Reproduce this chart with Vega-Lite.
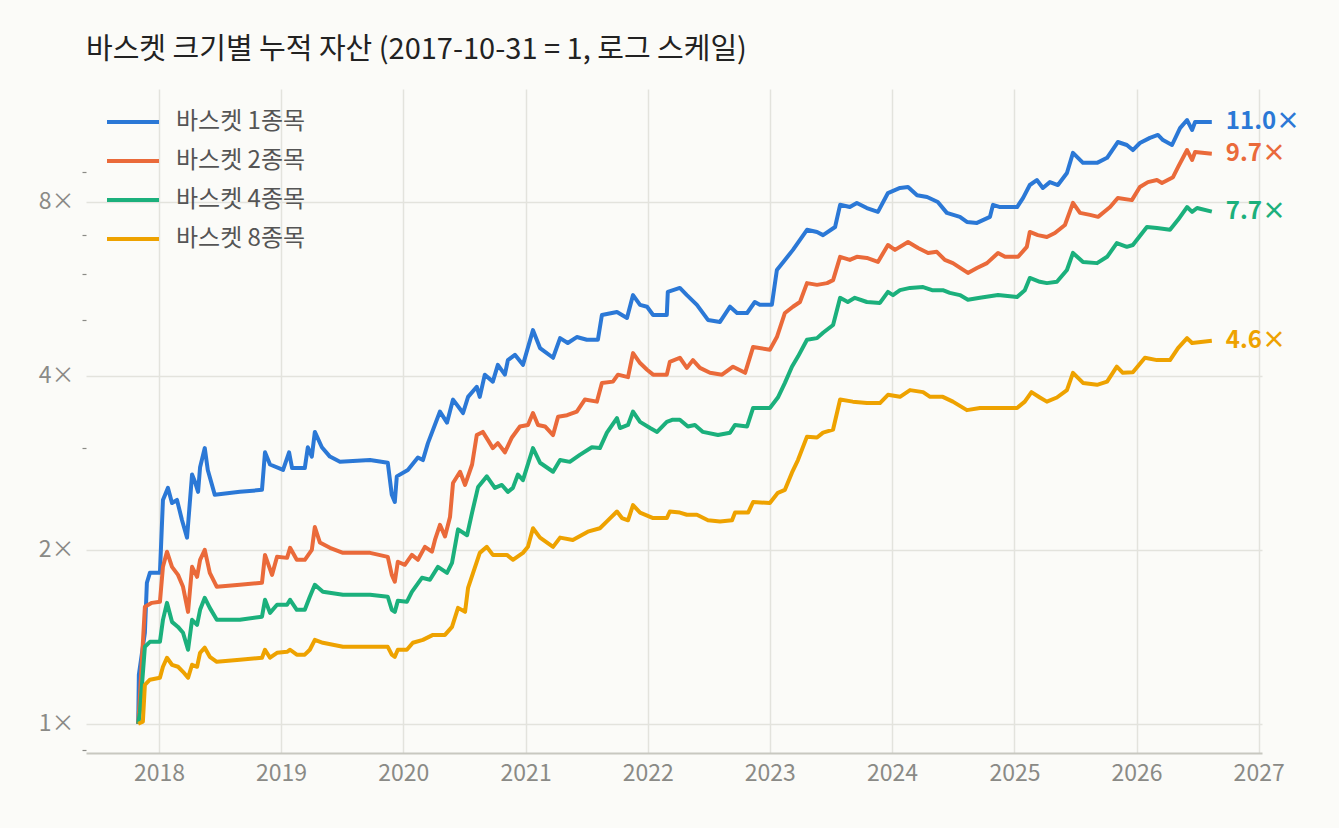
{
  "$schema": "https://vega.github.io/schema/vega-lite/v6.json",
  "width": 1176,
  "height": 664,
  "autosize": {"type": "none"},
  "padding": {"left": 86, "top": 89, "right": 77, "bottom": 75},
  "background": "#fbfbf8",
  "title": {
    "text": "바스켓 크기별 누적 자산 (2017-10-31 = 1, 로그 스케일)",
    "anchor": "start",
    "frame": "group",
    "font": "Noto Sans CJK KR",
    "fontSize": 29,
    "fontWeight": "normal",
    "color": "#222222",
    "baseline": "alphabetic",
    "offset": 1
  },
  "config": {
    "view": {"stroke": null},
    "font": "Noto Sans CJK KR"
  },
  "data": {
    "values": [
      {"basket": "바스켓 1종목", "date": "2017-10-31", "value": 1.0},
      {"basket": "바스켓 1종목", "date": "2017-11-02", "value": 1.216},
      {"basket": "바스켓 1종목", "date": "2017-11-20", "value": 1.437},
      {"basket": "바스켓 1종목", "date": "2017-11-26", "value": 1.754},
      {"basket": "바스켓 1종목", "date": "2017-12-05", "value": 1.825},
      {"basket": "바스켓 1종목", "date": "2018-01-04", "value": 1.825},
      {"basket": "바스켓 1종목", "date": "2018-01-13", "value": 2.44},
      {"basket": "바스켓 1종목", "date": "2018-01-28", "value": 2.56},
      {"basket": "바스켓 1종목", "date": "2018-02-09", "value": 2.41},
      {"basket": "바스켓 1종목", "date": "2018-02-24", "value": 2.44},
      {"basket": "바스켓 1종목", "date": "2018-03-11", "value": 2.25},
      {"basket": "바스켓 1종목", "date": "2018-03-26", "value": 2.10},
      {"basket": "바스켓 1종목", "date": "2018-04-10", "value": 2.70},
      {"basket": "바스켓 1종목", "date": "2018-04-19", "value": 2.62},
      {"basket": "바스켓 1종목", "date": "2018-04-28", "value": 2.52},
      {"basket": "바스켓 1종목", "date": "2018-05-04", "value": 2.78},
      {"basket": "바스켓 1종목", "date": "2018-05-18", "value": 3.00},
      {"basket": "바스켓 1종목", "date": "2018-05-27", "value": 2.75},
      {"basket": "바스켓 1종목", "date": "2018-06-17", "value": 2.49},
      {"basket": "바스켓 1종목", "date": "2018-08-31", "value": 2.52},
      {"basket": "바스켓 1종목", "date": "2018-11-05", "value": 2.54},
      {"basket": "바스켓 1종목", "date": "2018-11-14", "value": 2.95},
      {"basket": "바스켓 1종목", "date": "2018-11-29", "value": 2.81},
      {"basket": "바스켓 1종목", "date": "2019-01-07", "value": 2.75},
      {"basket": "바스켓 1종목", "date": "2019-01-25", "value": 2.95},
      {"basket": "바스켓 1종목", "date": "2019-02-03", "value": 2.77},
      {"basket": "바스켓 1종목", "date": "2019-03-13", "value": 2.77},
      {"basket": "바스켓 1종목", "date": "2019-03-22", "value": 3.01},
      {"basket": "바스켓 1종목", "date": "2019-04-03", "value": 2.90},
      {"basket": "바스켓 1종목", "date": "2019-04-12", "value": 3.20},
      {"basket": "바스켓 1종목", "date": "2019-05-03", "value": 3.01},
      {"basket": "바스켓 1종목", "date": "2019-05-27", "value": 2.90},
      {"basket": "바스켓 1종목", "date": "2019-06-26", "value": 2.84},
      {"basket": "바스켓 1종목", "date": "2019-09-24", "value": 2.86},
      {"basket": "바스켓 1종목", "date": "2019-11-16", "value": 2.83},
      {"basket": "바스켓 1종목", "date": "2019-11-28", "value": 2.49},
      {"basket": "바스켓 1종목", "date": "2019-12-07", "value": 2.42},
      {"basket": "바스켓 1종목", "date": "2019-12-13", "value": 2.68},
      {"basket": "바스켓 1종목", "date": "2020-01-15", "value": 2.75},
      {"basket": "바스켓 1종목", "date": "2020-02-14", "value": 2.89},
      {"basket": "바스켓 1종목", "date": "2020-02-29", "value": 2.86},
      {"basket": "바스켓 1종목", "date": "2020-03-15", "value": 3.06},
      {"basket": "바스켓 1종목", "date": "2020-04-20", "value": 3.47},
      {"basket": "바스켓 1종목", "date": "2020-05-11", "value": 3.32},
      {"basket": "바스켓 1종목", "date": "2020-05-29", "value": 3.64},
      {"basket": "바스켓 1종목", "date": "2020-06-28", "value": 3.45},
      {"basket": "바스켓 1종목", "date": "2020-07-13", "value": 3.68},
      {"basket": "바스켓 1종목", "date": "2020-08-08", "value": 3.83},
      {"basket": "바스켓 1종목", "date": "2020-08-17", "value": 3.68},
      {"basket": "바스켓 1종목", "date": "2020-09-01", "value": 4.02},
      {"basket": "바스켓 1종목", "date": "2020-09-25", "value": 3.91},
      {"basket": "바스켓 1종목", "date": "2020-10-10", "value": 4.18},
      {"basket": "바스켓 1종목", "date": "2020-10-31", "value": 4.02},
      {"basket": "바스켓 1종목", "date": "2020-11-09", "value": 4.26},
      {"basket": "바스켓 1종목", "date": "2020-11-30", "value": 4.35},
      {"basket": "바스켓 1종목", "date": "2020-12-24", "value": 4.18},
      {"basket": "바스켓 1종목", "date": "2021-01-23", "value": 4.80},
      {"basket": "바스켓 1종목", "date": "2021-02-13", "value": 4.47},
      {"basket": "바스켓 1종목", "date": "2021-03-24", "value": 4.30},
      {"basket": "바스켓 1종목", "date": "2021-04-14", "value": 4.65},
      {"basket": "바스켓 1종목", "date": "2021-05-07", "value": 4.56},
      {"basket": "바스켓 1종목", "date": "2021-06-03", "value": 4.67},
      {"basket": "바스켓 1종목", "date": "2021-07-03", "value": 4.62},
      {"basket": "바스켓 1종목", "date": "2021-08-05", "value": 4.62},
      {"basket": "바스켓 1종목", "date": "2021-08-17", "value": 5.10},
      {"basket": "바스켓 1종목", "date": "2021-10-01", "value": 5.16},
      {"basket": "바스켓 1종목", "date": "2021-10-31", "value": 5.04},
      {"basket": "바스켓 1종목", "date": "2021-11-18", "value": 5.52},
      {"basket": "바스켓 1종목", "date": "2021-12-09", "value": 5.31},
      {"basket": "바스켓 1종목", "date": "2021-12-30", "value": 5.27},
      {"basket": "바스켓 1종목", "date": "2022-01-17", "value": 5.10},
      {"basket": "바스켓 1종목", "date": "2022-02-27", "value": 5.10},
      {"basket": "바스켓 1종목", "date": "2022-03-02", "value": 5.59},
      {"basket": "바스켓 1종목", "date": "2022-04-07", "value": 5.68},
      {"basket": "바스켓 1종목", "date": "2022-04-28", "value": 5.52},
      {"basket": "바스켓 1종목", "date": "2022-05-28", "value": 5.31},
      {"basket": "바스켓 1종목", "date": "2022-06-30", "value": 5.00},
      {"basket": "바스켓 1종목", "date": "2022-08-05", "value": 4.96},
      {"basket": "바스켓 1종목", "date": "2022-09-04", "value": 5.27},
      {"basket": "바스켓 1종목", "date": "2022-09-25", "value": 5.14},
      {"basket": "바스켓 1종목", "date": "2022-10-25", "value": 5.14},
      {"basket": "바스켓 1종목", "date": "2022-11-17", "value": 5.37},
      {"basket": "바스켓 1종목", "date": "2022-12-02", "value": 5.31},
      {"basket": "바스켓 1종목", "date": "2023-01-07", "value": 5.31},
      {"basket": "바스켓 1종목", "date": "2023-01-22", "value": 6.10},
      {"basket": "바스켓 1종목", "date": "2023-02-15", "value": 6.35},
      {"basket": "바스켓 1종목", "date": "2023-03-11", "value": 6.61},
      {"basket": "바스켓 1종목", "date": "2023-04-01", "value": 6.88},
      {"basket": "바스켓 1종목", "date": "2023-04-22", "value": 7.16},
      {"basket": "바스켓 1종목", "date": "2023-05-22", "value": 7.10},
      {"basket": "바스켓 1종목", "date": "2023-06-09", "value": 7.01},
      {"basket": "바스켓 1종목", "date": "2023-07-15", "value": 7.24},
      {"basket": "바스켓 1종목", "date": "2023-07-30", "value": 7.91},
      {"basket": "바스켓 1종목", "date": "2023-08-28", "value": 7.84},
      {"basket": "바스켓 1종목", "date": "2023-09-18", "value": 7.97},
      {"basket": "바스켓 1종목", "date": "2023-10-18", "value": 7.81},
      {"basket": "바스켓 1종목", "date": "2023-11-20", "value": 7.69},
      {"basket": "바스켓 1종목", "date": "2023-12-20", "value": 8.29},
      {"basket": "바스켓 1종목", "date": "2024-01-25", "value": 8.46},
      {"basket": "바스켓 1종목", "date": "2024-02-18", "value": 8.49},
      {"basket": "바스켓 1종목", "date": "2024-03-16", "value": 8.22},
      {"basket": "바스켓 1종목", "date": "2024-04-15", "value": 8.16},
      {"basket": "바스켓 1종목", "date": "2024-05-17", "value": 8.00},
      {"basket": "바스켓 1종목", "date": "2024-06-13", "value": 7.66},
      {"basket": "바스켓 1종목", "date": "2024-07-22", "value": 7.54},
      {"basket": "바스켓 1종목", "date": "2024-08-12", "value": 7.39},
      {"basket": "바스켓 1종목", "date": "2024-09-11", "value": 7.36},
      {"basket": "바스켓 1종목", "date": "2024-10-20", "value": 7.54},
      {"basket": "바스켓 1종목", "date": "2024-10-29", "value": 7.91},
      {"basket": "바스켓 1종목", "date": "2024-11-19", "value": 7.84},
      {"basket": "바스켓 1종목", "date": "2025-01-09", "value": 7.84},
      {"basket": "바스켓 1종목", "date": "2025-01-27", "value": 8.13},
      {"basket": "바스켓 1종목", "date": "2025-02-16", "value": 8.56},
      {"basket": "바스켓 1종목", "date": "2025-03-09", "value": 8.73},
      {"basket": "바스켓 1종목", "date": "2025-03-27", "value": 8.46},
      {"basket": "바스켓 1종목", "date": "2025-04-17", "value": 8.66},
      {"basket": "바스켓 1종목", "date": "2025-05-11", "value": 8.56},
      {"basket": "바스켓 1종목", "date": "2025-06-07", "value": 8.98},
      {"basket": "바스켓 1종목", "date": "2025-06-25", "value": 9.73},
      {"basket": "바스켓 1종목", "date": "2025-07-25", "value": 9.35},
      {"basket": "바스켓 1종목", "date": "2025-09-05", "value": 9.35},
      {"basket": "바스켓 1종목", "date": "2025-10-05", "value": 9.54},
      {"basket": "바스켓 1종목", "date": "2025-11-06", "value": 10.16},
      {"basket": "바스켓 1종목", "date": "2025-12-03", "value": 10.04},
      {"basket": "바스켓 1종목", "date": "2025-12-21", "value": 9.84},
      {"basket": "바스켓 1종목", "date": "2026-01-11", "value": 10.12},
      {"basket": "바스켓 1종목", "date": "2026-02-10", "value": 10.33},
      {"basket": "바스켓 1종목", "date": "2026-03-06", "value": 10.45},
      {"basket": "바스켓 1종목", "date": "2026-03-21", "value": 10.24},
      {"basket": "바스켓 1종목", "date": "2026-04-17", "value": 10.04},
      {"basket": "바스켓 1종목", "date": "2026-05-11", "value": 10.74},
      {"basket": "바스켓 1종목", "date": "2026-06-01", "value": 11.09},
      {"basket": "바스켓 1종목", "date": "2026-06-16", "value": 10.66},
      {"basket": "바스켓 1종목", "date": "2026-06-25", "value": 11.0},
      {"basket": "바스켓 1종목", "date": "2026-08-14", "value": 11.0},

      {"basket": "바스켓 2종목", "date": "2017-10-31", "value": 1.0},
      {"basket": "바스켓 2종목", "date": "2017-11-05", "value": 1.114},
      {"basket": "바스켓 2종목", "date": "2017-11-20", "value": 1.594},
      {"basket": "바스켓 2종목", "date": "2017-12-11", "value": 1.619},
      {"basket": "바스켓 2종목", "date": "2018-01-04", "value": 1.626},
      {"basket": "바스켓 2종목", "date": "2018-01-13", "value": 1.869},
      {"basket": "바스켓 2종목", "date": "2018-01-25", "value": 1.985},
      {"basket": "바스켓 2종목", "date": "2018-02-09", "value": 1.869},
      {"basket": "바스켓 2종목", "date": "2018-02-27", "value": 1.810},
      {"basket": "바스켓 2종목", "date": "2018-03-14", "value": 1.726},
      {"basket": "바스켓 2종목", "date": "2018-03-29", "value": 1.562},
      {"basket": "바스켓 2종목", "date": "2018-04-10", "value": 1.869},
      {"basket": "바스켓 2종목", "date": "2018-04-25", "value": 1.796},
      {"basket": "바스켓 2종목", "date": "2018-05-04", "value": 1.922},
      {"basket": "바스켓 2종목", "date": "2018-05-18", "value": 2.00},
      {"basket": "바스켓 2종목", "date": "2018-06-02", "value": 1.825},
      {"basket": "바스켓 2종목", "date": "2018-06-23", "value": 1.726},
      {"basket": "바스켓 2종목", "date": "2018-08-31", "value": 1.740},
      {"basket": "바스켓 2종목", "date": "2018-11-05", "value": 1.754},
      {"basket": "바스켓 2종목", "date": "2018-11-14", "value": 1.960},
      {"basket": "바스켓 2종목", "date": "2018-12-05", "value": 1.810},
      {"basket": "바스켓 2종목", "date": "2018-12-20", "value": 1.945},
      {"basket": "바스켓 2종목", "date": "2019-01-19", "value": 1.937},
      {"basket": "바스켓 2종목", "date": "2019-01-28", "value": 2.016},
      {"basket": "바스켓 2종목", "date": "2019-02-17", "value": 1.922},
      {"basket": "바스켓 2종목", "date": "2019-03-13", "value": 1.922},
      {"basket": "바스켓 2종목", "date": "2019-04-03", "value": 2.00},
      {"basket": "바스켓 2종목", "date": "2019-04-12", "value": 2.19},
      {"basket": "바스켓 2종목", "date": "2019-04-27", "value": 2.06},
      {"basket": "바스켓 2종목", "date": "2019-05-27", "value": 2.016},
      {"basket": "바스켓 2종목", "date": "2019-07-05", "value": 1.976},
      {"basket": "바스켓 2종목", "date": "2019-09-24", "value": 1.976},
      {"basket": "바스켓 2종목", "date": "2019-11-16", "value": 1.945},
      {"basket": "바스켓 2종목", "date": "2019-11-28", "value": 1.810},
      {"basket": "바스켓 2종목", "date": "2019-12-07", "value": 1.761},
      {"basket": "바스켓 2종목", "date": "2019-12-16", "value": 1.907},
      {"basket": "바스켓 2종목", "date": "2020-01-06", "value": 1.884},
      {"basket": "바스켓 2종목", "date": "2020-01-27", "value": 1.960},
      {"basket": "바스켓 2종목", "date": "2020-02-14", "value": 1.922},
      {"basket": "바스켓 2종목", "date": "2020-03-06", "value": 2.024},
      {"basket": "바스켓 2종목", "date": "2020-03-27", "value": 1.985},
      {"basket": "바스켓 2종목", "date": "2020-04-05", "value": 2.08},
      {"basket": "바스켓 2종목", "date": "2020-04-20", "value": 2.21},
      {"basket": "바스켓 2종목", "date": "2020-05-05", "value": 2.11},
      {"basket": "바스켓 2종목", "date": "2020-05-20", "value": 2.28},
      {"basket": "바스켓 2종목", "date": "2020-05-29", "value": 2.61},
      {"basket": "바스켓 2종목", "date": "2020-06-19", "value": 2.73},
      {"basket": "바스켓 2종목", "date": "2020-07-04", "value": 2.59},
      {"basket": "바스켓 2종목", "date": "2020-07-25", "value": 2.81},
      {"basket": "바스켓 2종목", "date": "2020-08-08", "value": 3.16},
      {"basket": "바스켓 2종목", "date": "2020-08-26", "value": 3.20},
      {"basket": "바스켓 2종목", "date": "2020-09-10", "value": 3.10},
      {"basket": "바스켓 2종목", "date": "2020-09-25", "value": 3.00},
      {"basket": "바스켓 2종목", "date": "2020-10-10", "value": 3.06},
      {"basket": "바스켓 2종목", "date": "2020-10-31", "value": 2.95},
      {"basket": "바스켓 2종목", "date": "2020-11-21", "value": 3.13},
      {"basket": "바스켓 2종목", "date": "2020-12-15", "value": 3.27},
      {"basket": "바스켓 2종목", "date": "2021-01-08", "value": 3.29},
      {"basket": "바스켓 2종목", "date": "2021-01-23", "value": 3.45},
      {"basket": "바스켓 2종목", "date": "2021-02-07", "value": 3.29},
      {"basket": "바스켓 2종목", "date": "2021-02-28", "value": 3.27},
      {"basket": "바스켓 2종목", "date": "2021-03-24", "value": 3.16},
      {"basket": "바스켓 2종목", "date": "2021-04-08", "value": 3.40},
      {"basket": "바스켓 2종목", "date": "2021-05-05", "value": 3.42},
      {"basket": "바스켓 2종목", "date": "2021-06-03", "value": 3.47},
      {"basket": "바스켓 2종목", "date": "2021-06-27", "value": 3.64},
      {"basket": "바스켓 2종목", "date": "2021-08-02", "value": 3.61},
      {"basket": "바스켓 2종목", "date": "2021-08-17", "value": 3.89},
      {"basket": "바스켓 2종목", "date": "2021-09-19", "value": 3.91},
      {"basket": "바스켓 2종목", "date": "2021-10-04", "value": 4.02},
      {"basket": "바스켓 2종목", "date": "2021-11-03", "value": 3.98},
      {"basket": "바스켓 2종목", "date": "2021-11-18", "value": 4.38},
      {"basket": "바스켓 2종목", "date": "2021-12-09", "value": 4.21},
      {"basket": "바스켓 2종목", "date": "2021-12-30", "value": 4.10},
      {"basket": "바스켓 2종목", "date": "2022-01-17", "value": 4.02},
      {"basket": "바스켓 2종목", "date": "2022-02-27", "value": 4.02},
      {"basket": "바스켓 2종목", "date": "2022-03-08", "value": 4.23},
      {"basket": "바스켓 2종목", "date": "2022-04-07", "value": 4.30},
      {"basket": "바스켓 2종목", "date": "2022-04-28", "value": 4.13},
      {"basket": "바스켓 2종목", "date": "2022-05-16", "value": 4.26},
      {"basket": "바스켓 2종목", "date": "2022-06-06", "value": 4.13},
      {"basket": "바스켓 2종목", "date": "2022-07-06", "value": 4.05},
      {"basket": "바스켓 2종목", "date": "2022-08-11", "value": 4.02},
      {"basket": "바스켓 2종목", "date": "2022-09-13", "value": 4.15},
      {"basket": "바스켓 2종목", "date": "2022-10-19", "value": 4.05},
      {"basket": "바스켓 2종목", "date": "2022-11-12", "value": 4.49},
      {"basket": "바스켓 2종목", "date": "2023-01-01", "value": 4.44},
      {"basket": "바스켓 2종목", "date": "2023-01-22", "value": 4.67},
      {"basket": "바스켓 2종목", "date": "2023-02-15", "value": 5.14},
      {"basket": "바스켓 2종목", "date": "2023-03-11", "value": 5.27},
      {"basket": "바스켓 2종목", "date": "2023-04-01", "value": 5.37},
      {"basket": "바스켓 2종목", "date": "2023-04-22", "value": 5.79},
      {"basket": "바스켓 2종목", "date": "2023-05-22", "value": 5.75},
      {"basket": "바스켓 2종목", "date": "2023-06-21", "value": 5.79},
      {"basket": "바스켓 2종목", "date": "2023-07-09", "value": 5.86},
      {"basket": "바스켓 2종목", "date": "2023-07-30", "value": 6.43},
      {"basket": "바스켓 2종목", "date": "2023-08-28", "value": 6.35},
      {"basket": "바스켓 2종목", "date": "2023-09-18", "value": 6.43},
      {"basket": "바스켓 2종목", "date": "2023-10-18", "value": 6.40},
      {"basket": "바스켓 2종목", "date": "2023-11-20", "value": 6.30},
      {"basket": "바스켓 2종목", "date": "2023-12-20", "value": 6.74},
      {"basket": "바스켓 2종목", "date": "2024-01-10", "value": 6.61},
      {"basket": "바스켓 2종목", "date": "2024-02-18", "value": 6.82},
      {"basket": "바스켓 2종목", "date": "2024-03-19", "value": 6.66},
      {"basket": "바스켓 2종목", "date": "2024-04-18", "value": 6.53},
      {"basket": "바스켓 2종목", "date": "2024-05-14", "value": 6.56},
      {"basket": "바스켓 2종목", "date": "2024-06-07", "value": 6.35},
      {"basket": "바스켓 2종목", "date": "2024-07-01", "value": 6.27},
      {"basket": "바스켓 2종목", "date": "2024-08-15", "value": 6.03},
      {"basket": "바스켓 2종목", "date": "2024-09-11", "value": 6.15},
      {"basket": "바스켓 2종목", "date": "2024-10-11", "value": 6.27},
      {"basket": "바스켓 2종목", "date": "2024-11-13", "value": 6.53},
      {"basket": "바스켓 2종목", "date": "2024-12-04", "value": 6.43},
      {"basket": "바스켓 2종목", "date": "2025-01-12", "value": 6.43},
      {"basket": "바스켓 2종목", "date": "2025-02-07", "value": 6.69},
      {"basket": "바스켓 2종목", "date": "2025-02-16", "value": 7.10},
      {"basket": "바스켓 2종목", "date": "2025-03-12", "value": 7.01},
      {"basket": "바스켓 2종목", "date": "2025-04-08", "value": 6.96},
      {"basket": "바스켓 2종목", "date": "2025-05-02", "value": 7.07},
      {"basket": "바스켓 2종목", "date": "2025-06-01", "value": 7.30},
      {"basket": "바스켓 2종목", "date": "2025-06-25", "value": 7.97},
      {"basket": "바스켓 2종목", "date": "2025-07-16", "value": 7.66},
      {"basket": "바스켓 2종목", "date": "2025-08-15", "value": 7.60},
      {"basket": "바스켓 2종목", "date": "2025-09-08", "value": 7.54},
      {"basket": "바스켓 2종목", "date": "2025-10-14", "value": 7.84},
      {"basket": "바스켓 2종목", "date": "2025-11-06", "value": 8.13},
      {"basket": "바스켓 2종목", "date": "2025-12-18", "value": 8.06},
      {"basket": "바스켓 2종목", "date": "2026-01-11", "value": 8.49},
      {"basket": "바스켓 2종목", "date": "2026-02-04", "value": 8.66},
      {"basket": "바스켓 2종목", "date": "2026-03-03", "value": 8.73},
      {"basket": "바스켓 2종목", "date": "2026-03-18", "value": 8.63},
      {"basket": "바스켓 2종목", "date": "2026-04-20", "value": 8.83},
      {"basket": "바스켓 2종목", "date": "2026-05-05", "value": 9.19},
      {"basket": "바스켓 2종목", "date": "2026-06-01", "value": 9.84},
      {"basket": "바스켓 2종목", "date": "2026-06-16", "value": 9.46},
      {"basket": "바스켓 2종목", "date": "2026-06-25", "value": 9.76},
      {"basket": "바스켓 2종목", "date": "2026-08-14", "value": 9.70},

      {"basket": "바스켓 4종목", "date": "2017-10-31", "value": 1.0},
      {"basket": "바스켓 4종목", "date": "2017-11-05", "value": 1.045},
      {"basket": "바스켓 4종목", "date": "2017-11-20", "value": 1.359},
      {"basket": "바스켓 4종목", "date": "2017-12-05", "value": 1.386},
      {"basket": "바스켓 4종목", "date": "2018-01-04", "value": 1.386},
      {"basket": "바스켓 4종목", "date": "2018-01-13", "value": 1.513},
      {"basket": "바스켓 4종목", "date": "2018-01-25", "value": 1.619},
      {"basket": "바스켓 4종목", "date": "2018-02-09", "value": 1.501},
      {"basket": "바스켓 4종목", "date": "2018-02-27", "value": 1.471},
      {"basket": "바스켓 4종목", "date": "2018-03-14", "value": 1.437},
      {"basket": "바스켓 4종목", "date": "2018-03-29", "value": 1.343},
      {"basket": "바스켓 4종목", "date": "2018-04-10", "value": 1.513},
      {"basket": "바스켓 4종목", "date": "2018-04-25", "value": 1.483},
      {"basket": "바스켓 4종목", "date": "2018-05-04", "value": 1.575},
      {"basket": "바스켓 4종목", "date": "2018-05-18", "value": 1.652},
      {"basket": "바스켓 4종목", "date": "2018-06-02", "value": 1.587},
      {"basket": "바스켓 4종목", "date": "2018-06-23", "value": 1.513},
      {"basket": "바스켓 4종목", "date": "2018-08-31", "value": 1.513},
      {"basket": "바스켓 4종목", "date": "2018-11-05", "value": 1.532},
      {"basket": "바스켓 4종목", "date": "2018-11-14", "value": 1.639},
      {"basket": "바스켓 4종목", "date": "2018-11-29", "value": 1.556},
      {"basket": "바스켓 4종목", "date": "2018-12-20", "value": 1.607},
      {"basket": "바스켓 4종목", "date": "2019-01-19", "value": 1.607},
      {"basket": "바스켓 4종목", "date": "2019-01-28", "value": 1.639},
      {"basket": "바스켓 4종목", "date": "2019-02-17", "value": 1.575},
      {"basket": "바스켓 4종목", "date": "2019-03-13", "value": 1.575},
      {"basket": "바스켓 4종목", "date": "2019-03-28", "value": 1.659},
      {"basket": "바스켓 4종목", "date": "2019-04-12", "value": 1.740},
      {"basket": "바스켓 4종목", "date": "2019-05-06", "value": 1.692},
      {"basket": "바스켓 4종목", "date": "2019-07-05", "value": 1.672},
      {"basket": "바스켓 4종목", "date": "2019-09-24", "value": 1.672},
      {"basket": "바스켓 4종목", "date": "2019-11-16", "value": 1.659},
      {"basket": "바스켓 4종목", "date": "2019-11-28", "value": 1.575},
      {"basket": "바스켓 4종목", "date": "2019-12-07", "value": 1.562},
      {"basket": "바스켓 4종목", "date": "2019-12-16", "value": 1.632},
      {"basket": "바스켓 4종목", "date": "2020-01-12", "value": 1.626},
      {"basket": "바스켓 4종목", "date": "2020-01-27", "value": 1.692},
      {"basket": "바스켓 4종목", "date": "2020-02-26", "value": 1.789},
      {"basket": "바스켓 4종목", "date": "2020-03-21", "value": 1.775},
      {"basket": "바스켓 4종목", "date": "2020-04-14", "value": 1.869},
      {"basket": "바스켓 4종목", "date": "2020-05-11", "value": 1.825},
      {"basket": "바스켓 4종목", "date": "2020-05-26", "value": 1.899},
      {"basket": "바스켓 4종목", "date": "2020-06-13", "value": 2.17},
      {"basket": "바스켓 4종목", "date": "2020-07-10", "value": 2.12},
      {"basket": "바스켓 4종목", "date": "2020-07-25", "value": 2.32},
      {"basket": "바스켓 4종목", "date": "2020-08-12", "value": 2.57},
      {"basket": "바스켓 4종목", "date": "2020-09-07", "value": 2.68},
      {"basket": "바스켓 4종목", "date": "2020-10-01", "value": 2.56},
      {"basket": "바스켓 4종목", "date": "2020-10-22", "value": 2.59},
      {"basket": "바스켓 4종목", "date": "2020-11-09", "value": 2.52},
      {"basket": "바스켓 4종목", "date": "2020-11-24", "value": 2.56},
      {"basket": "바스켓 4종목", "date": "2020-12-09", "value": 2.70},
      {"basket": "바스켓 4종목", "date": "2020-12-24", "value": 2.64},
      {"basket": "바스켓 4종목", "date": "2021-01-23", "value": 3.00},
      {"basket": "바스켓 4종목", "date": "2021-02-13", "value": 2.83},
      {"basket": "바스켓 4종목", "date": "2021-03-24", "value": 2.73},
      {"basket": "바스켓 4종목", "date": "2021-04-14", "value": 2.86},
      {"basket": "바스켓 4종목", "date": "2021-05-13", "value": 2.84},
      {"basket": "바스켓 4종목", "date": "2021-06-12", "value": 2.92},
      {"basket": "바스켓 4종목", "date": "2021-07-18", "value": 3.01},
      {"basket": "바스켓 4종목", "date": "2021-08-11", "value": 3.00},
      {"basket": "바스켓 4종목", "date": "2021-09-01", "value": 3.19},
      {"basket": "바스켓 4종목", "date": "2021-10-01", "value": 3.38},
      {"basket": "바스켓 4종목", "date": "2021-10-10", "value": 3.25},
      {"basket": "바스켓 4종목", "date": "2021-11-03", "value": 3.29},
      {"basket": "바스켓 4종목", "date": "2021-11-18", "value": 3.47},
      {"basket": "바스켓 4종목", "date": "2021-12-09", "value": 3.33},
      {"basket": "바스켓 4종목", "date": "2022-01-08", "value": 3.25},
      {"basket": "바스켓 4종목", "date": "2022-01-29", "value": 3.20},
      {"basket": "바스켓 4종목", "date": "2022-02-27", "value": 3.33},
      {"basket": "바스켓 4종목", "date": "2022-03-17", "value": 3.36},
      {"basket": "바스켓 4종목", "date": "2022-04-07", "value": 3.36},
      {"basket": "바스켓 4종목", "date": "2022-05-01", "value": 3.27},
      {"basket": "바스켓 4종목", "date": "2022-05-22", "value": 3.29},
      {"basket": "바스켓 4종목", "date": "2022-06-15", "value": 3.20},
      {"basket": "바스켓 4종목", "date": "2022-07-30", "value": 3.16},
      {"basket": "바스켓 4종목", "date": "2022-09-04", "value": 3.19},
      {"basket": "바스켓 4종목", "date": "2022-09-19", "value": 3.29},
      {"basket": "바스켓 4종목", "date": "2022-10-25", "value": 3.27},
      {"basket": "바스켓 4종목", "date": "2022-11-12", "value": 3.52},
      {"basket": "바스켓 4종목", "date": "2023-01-01", "value": 3.52},
      {"basket": "바스켓 4종목", "date": "2023-01-25", "value": 3.67},
      {"basket": "바스켓 4종목", "date": "2023-02-15", "value": 3.89},
      {"basket": "바스켓 4종목", "date": "2023-03-08", "value": 4.15},
      {"basket": "바스켓 4종목", "date": "2023-03-26", "value": 4.32},
      {"basket": "바스켓 4종목", "date": "2023-04-22", "value": 4.62},
      {"basket": "바스켓 4종목", "date": "2023-05-22", "value": 4.65},
      {"basket": "바스켓 4종목", "date": "2023-06-09", "value": 4.75},
      {"basket": "바스켓 4종목", "date": "2023-07-09", "value": 4.90},
      {"basket": "바스켓 4종목", "date": "2023-07-30", "value": 5.46},
      {"basket": "바스켓 4종목", "date": "2023-08-22", "value": 5.37},
      {"basket": "바스켓 4종목", "date": "2023-09-12", "value": 5.46},
      {"basket": "바스켓 4종목", "date": "2023-10-18", "value": 5.37},
      {"basket": "바스켓 4종목", "date": "2023-11-26", "value": 5.35},
      {"basket": "바스켓 4종목", "date": "2023-12-20", "value": 5.59},
      {"basket": "바스켓 4종목", "date": "2024-01-04", "value": 5.52},
      {"basket": "바스켓 4종목", "date": "2024-01-25", "value": 5.63},
      {"basket": "바스켓 4종목", "date": "2024-02-24", "value": 5.68},
      {"basket": "바스켓 4종목", "date": "2024-04-03", "value": 5.70},
      {"basket": "바스켓 4종목", "date": "2024-04-30", "value": 5.63},
      {"basket": "바스켓 4종목", "date": "2024-06-01", "value": 5.63},
      {"basket": "바스켓 4종목", "date": "2024-06-22", "value": 5.57},
      {"basket": "바스켓 4종목", "date": "2024-07-22", "value": 5.52},
      {"basket": "바스켓 4종목", "date": "2024-08-15", "value": 5.42},
      {"basket": "바스켓 4종목", "date": "2024-09-20", "value": 5.46},
      {"basket": "바스켓 4종목", "date": "2024-11-13", "value": 5.52},
      {"basket": "바스켓 4종목", "date": "2025-01-09", "value": 5.48},
      {"basket": "바스켓 4종목", "date": "2025-02-01", "value": 5.63},
      {"basket": "바스켓 4종목", "date": "2025-02-16", "value": 5.91},
      {"basket": "바스켓 4종목", "date": "2025-03-18", "value": 5.82},
      {"basket": "바스켓 4종목", "date": "2025-04-08", "value": 5.79},
      {"basket": "바스켓 4종목", "date": "2025-05-08", "value": 5.82},
      {"basket": "바스켓 4종목", "date": "2025-06-07", "value": 6.10},
      {"basket": "바스켓 4종목", "date": "2025-06-25", "value": 6.53},
      {"basket": "바스켓 4종목", "date": "2025-07-25", "value": 6.30},
      {"basket": "바스켓 4종목", "date": "2025-09-05", "value": 6.27},
      {"basket": "바스켓 4종목", "date": "2025-10-05", "value": 6.43},
      {"basket": "바스켓 4종목", "date": "2025-11-03", "value": 6.79},
      {"basket": "바스켓 4종목", "date": "2025-12-03", "value": 6.69},
      {"basket": "바스켓 4종목", "date": "2025-12-21", "value": 6.74},
      {"basket": "바스켓 4종목", "date": "2026-02-01", "value": 7.24},
      {"basket": "바스켓 4종목", "date": "2026-03-03", "value": 7.21},
      {"basket": "바스켓 4종목", "date": "2026-04-11", "value": 7.16},
      {"basket": "바스켓 4종목", "date": "2026-05-05", "value": 7.45},
      {"basket": "바스켓 4종목", "date": "2026-06-01", "value": 7.84},
      {"basket": "바스켓 4종목", "date": "2026-06-16", "value": 7.69},
      {"basket": "바스켓 4종목", "date": "2026-07-01", "value": 7.81},
      {"basket": "바스켓 4종목", "date": "2026-08-14", "value": 7.70},

      {"basket": "바스켓 8종목", "date": "2017-10-31", "value": 1.0},
      {"basket": "바스켓 8종목", "date": "2017-11-14", "value": 1.008},
      {"basket": "바스켓 8종목", "date": "2017-11-20", "value": 1.168},
      {"basket": "바스켓 8종목", "date": "2017-12-05", "value": 1.192},
      {"basket": "바스켓 8종목", "date": "2018-01-04", "value": 1.201},
      {"basket": "바스켓 8종목", "date": "2018-01-13", "value": 1.255},
      {"basket": "바스켓 8종목", "date": "2018-01-25", "value": 1.301},
      {"basket": "바스켓 8종목", "date": "2018-02-09", "value": 1.265},
      {"basket": "바스켓 8종목", "date": "2018-02-27", "value": 1.255},
      {"basket": "바스켓 8종목", "date": "2018-03-14", "value": 1.230},
      {"basket": "바스켓 8종목", "date": "2018-03-29", "value": 1.201},
      {"basket": "바스켓 8종목", "date": "2018-04-10", "value": 1.265},
      {"basket": "바스켓 8종목", "date": "2018-04-25", "value": 1.255},
      {"basket": "바스켓 8종목", "date": "2018-05-04", "value": 1.327},
      {"basket": "바스켓 8종목", "date": "2018-05-18", "value": 1.354},
      {"basket": "바스켓 8종목", "date": "2018-06-02", "value": 1.306},
      {"basket": "바스켓 8종목", "date": "2018-06-23", "value": 1.280},
      {"basket": "바스켓 8종목", "date": "2018-08-31", "value": 1.290},
      {"basket": "바스켓 8종목", "date": "2018-11-05", "value": 1.301},
      {"basket": "바스켓 8종목", "date": "2018-11-14", "value": 1.343},
      {"basket": "바스켓 8종목", "date": "2018-11-29", "value": 1.301},
      {"basket": "바스켓 8종목", "date": "2018-12-20", "value": 1.327},
      {"basket": "바스켓 8종목", "date": "2019-01-19", "value": 1.332},
      {"basket": "바스켓 8종목", "date": "2019-01-28", "value": 1.343},
      {"basket": "바스켓 8종목", "date": "2019-02-17", "value": 1.317},
      {"basket": "바스켓 8종목", "date": "2019-03-13", "value": 1.317},
      {"basket": "바스켓 8종목", "date": "2019-03-28", "value": 1.343},
      {"basket": "바스켓 8종목", "date": "2019-04-12", "value": 1.397},
      {"basket": "바스켓 8종목", "date": "2019-05-06", "value": 1.381},
      {"basket": "바스켓 8종목", "date": "2019-07-05", "value": 1.359},
      {"basket": "바스켓 8종목", "date": "2019-11-16", "value": 1.359},
      {"basket": "바스켓 8종목", "date": "2019-11-28", "value": 1.317},
      {"basket": "바스켓 8종목", "date": "2019-12-07", "value": 1.306},
      {"basket": "바스켓 8종목", "date": "2019-12-16", "value": 1.343},
      {"basket": "바스켓 8종목", "date": "2020-01-12", "value": 1.343},
      {"basket": "바스켓 8종목", "date": "2020-01-30", "value": 1.381},
      {"basket": "바스켓 8종목", "date": "2020-02-29", "value": 1.397},
      {"basket": "바스켓 8종목", "date": "2020-03-30", "value": 1.425},
      {"basket": "바스켓 8종목", "date": "2020-05-05", "value": 1.425},
      {"basket": "바스켓 8종목", "date": "2020-05-26", "value": 1.471},
      {"basket": "바스켓 8종목", "date": "2020-06-13", "value": 1.587},
      {"basket": "바스켓 8종목", "date": "2020-07-04", "value": 1.562},
      {"basket": "바스켓 8종목", "date": "2020-07-13", "value": 1.719},
      {"basket": "바스켓 8종목", "date": "2020-07-28", "value": 1.825},
      {"basket": "바스켓 8종목", "date": "2020-08-17", "value": 1.976},
      {"basket": "바스켓 8종목", "date": "2020-09-07", "value": 2.024},
      {"basket": "바스켓 8종목", "date": "2020-09-25", "value": 1.960},
      {"basket": "바스켓 8종목", "date": "2020-11-06", "value": 1.960},
      {"basket": "바스켓 8종목", "date": "2020-11-24", "value": 1.922},
      {"basket": "바스켓 8종목", "date": "2020-12-24", "value": 1.976},
      {"basket": "바스켓 8종목", "date": "2021-01-08", "value": 2.024},
      {"basket": "바스켓 8종목", "date": "2021-01-23", "value": 2.18},
      {"basket": "바스켓 8종목", "date": "2021-02-13", "value": 2.10},
      {"basket": "바스켓 8종목", "date": "2021-03-24", "value": 2.024},
      {"basket": "바스켓 8종목", "date": "2021-04-14", "value": 2.10},
      {"basket": "바스켓 8종목", "date": "2021-05-22", "value": 2.08},
      {"basket": "바스켓 8종목", "date": "2021-07-06", "value": 2.15},
      {"basket": "바스켓 8종목", "date": "2021-08-11", "value": 2.18},
      {"basket": "바스켓 8종목", "date": "2021-09-01", "value": 2.24},
      {"basket": "바스켓 8종목", "date": "2021-10-01", "value": 2.33},
      {"basket": "바스켓 8종목", "date": "2021-10-16", "value": 2.27},
      {"basket": "바스켓 8종목", "date": "2021-11-03", "value": 2.25},
      {"basket": "바스켓 8종목", "date": "2021-11-18", "value": 2.39},
      {"basket": "바스켓 8종목", "date": "2021-12-09", "value": 2.32},
      {"basket": "바스켓 8종목", "date": "2022-01-17", "value": 2.27},
      {"basket": "바스켓 8종목", "date": "2022-02-27", "value": 2.27},
      {"basket": "바스켓 8종목", "date": "2022-03-08", "value": 2.33},
      {"basket": "바스켓 8종목", "date": "2022-04-07", "value": 2.32},
      {"basket": "바스켓 8종목", "date": "2022-04-28", "value": 2.30},
      {"basket": "바스켓 8종목", "date": "2022-05-28", "value": 2.30},
      {"basket": "바스켓 8종목", "date": "2022-06-30", "value": 2.25},
      {"basket": "바스켓 8종목", "date": "2022-08-05", "value": 2.24},
      {"basket": "바스켓 8종목", "date": "2022-09-10", "value": 2.25},
      {"basket": "바스켓 8종목", "date": "2022-09-19", "value": 2.32},
      {"basket": "바스켓 8종목", "date": "2022-10-28", "value": 2.32},
      {"basket": "바스켓 8종목", "date": "2022-11-12", "value": 2.42},
      {"basket": "바스켓 8종목", "date": "2023-01-01", "value": 2.41},
      {"basket": "바스켓 8종목", "date": "2023-01-25", "value": 2.51},
      {"basket": "바스켓 8종목", "date": "2023-02-15", "value": 2.54},
      {"basket": "바스켓 8종목", "date": "2023-03-08", "value": 2.72},
      {"basket": "바스켓 8종목", "date": "2023-03-26", "value": 2.86},
      {"basket": "바스켓 8종목", "date": "2023-04-22", "value": 3.14},
      {"basket": "바스켓 8종목", "date": "2023-05-22", "value": 3.13},
      {"basket": "바스켓 8종목", "date": "2023-06-09", "value": 3.19},
      {"basket": "바스켓 8종목", "date": "2023-07-09", "value": 3.23},
      {"basket": "바스켓 8종목", "date": "2023-07-30", "value": 3.64},
      {"basket": "바스켓 8종목", "date": "2023-09-06", "value": 3.61},
      {"basket": "바스켓 8종목", "date": "2023-10-18", "value": 3.59},
      {"basket": "바스켓 8종목", "date": "2023-11-26", "value": 3.59},
      {"basket": "바스켓 8종목", "date": "2023-12-20", "value": 3.71},
      {"basket": "바스켓 8종목", "date": "2024-01-25", "value": 3.68},
      {"basket": "바스켓 8종목", "date": "2024-02-24", "value": 3.78},
      {"basket": "바스켓 8종목", "date": "2024-04-03", "value": 3.75},
      {"basket": "바스켓 8종목", "date": "2024-04-24", "value": 3.68},
      {"basket": "바스켓 8종목", "date": "2024-06-01", "value": 3.68},
      {"basket": "바스켓 8종목", "date": "2024-07-01", "value": 3.61},
      {"basket": "바스켓 8종목", "date": "2024-08-12", "value": 3.49},
      {"basket": "바스켓 8종목", "date": "2024-09-20", "value": 3.52},
      {"basket": "바스켓 8종목", "date": "2024-11-13", "value": 3.52},
      {"basket": "바스켓 8종목", "date": "2025-01-09", "value": 3.52},
      {"basket": "바스켓 8종목", "date": "2025-02-01", "value": 3.61},
      {"basket": "바스켓 8종목", "date": "2025-02-21", "value": 3.75},
      {"basket": "바스켓 8종목", "date": "2025-03-18", "value": 3.67},
      {"basket": "바스켓 8종목", "date": "2025-04-08", "value": 3.61},
      {"basket": "바스켓 8종목", "date": "2025-05-08", "value": 3.67},
      {"basket": "바스켓 8종목", "date": "2025-06-07", "value": 3.78},
      {"basket": "바스켓 8종목", "date": "2025-06-25", "value": 4.05},
      {"basket": "바스켓 8종목", "date": "2025-07-25", "value": 3.89},
      {"basket": "바스켓 8종목", "date": "2025-09-05", "value": 3.86},
      {"basket": "바스켓 8종목", "date": "2025-10-05", "value": 3.91},
      {"basket": "바스켓 8종목", "date": "2025-11-03", "value": 4.15},
      {"basket": "바스켓 8종목", "date": "2025-11-21", "value": 4.05},
      {"basket": "바스켓 8종목", "date": "2025-12-21", "value": 4.06},
      {"basket": "바스켓 8종목", "date": "2026-01-26", "value": 4.30},
      {"basket": "바스켓 8종목", "date": "2026-03-03", "value": 4.26},
      {"basket": "바스켓 8종목", "date": "2026-04-11", "value": 4.26},
      {"basket": "바스켓 8종목", "date": "2026-05-05", "value": 4.47},
      {"basket": "바스켓 8종목", "date": "2026-06-01", "value": 4.65},
      {"basket": "바스켓 8종목", "date": "2026-06-16", "value": 4.56},
      {"basket": "바스켓 8종목", "date": "2026-08-14", "value": 4.60}
    ]
  },
  "encoding": {
    "x": {
      "field": "date",
      "type": "temporal",
      "scale": {"domain": [{"year": 2017, "month": 5, "date": 28}, {"year": 2027, "month": 1, "date": 11}]},
      "axis": {
        "title": null,
        "format": "%Y",
        "tickCount": {"interval": "year", "step": 1},
        "grid": true,
        "gridColor": "#e3e3dd",
        "gridWidth": 1.5,
        "ticks": false,
        "domainColor": "#c8c8c0",
        "domainWidth": 2,
        "labelColor": "#8a8a86",
        "labelFont": "Noto Sans CJK KR",
        "labelFontSize": 23,
        "labelPadding": 9,
        "labelFlush": false,
        "labelOverlap": false
      }
    },
    "y": {
      "field": "value",
      "type": "quantitative",
      "scale": {"type": "log", "domain": [0.89, 12.55]},
      "axis": {
        "title": null,
        "values": [0.9, 1, 2, 3, 4, 5, 6, 7, 8, 9],
        "labelExpr": "indexof([1, 2, 4, 8], datum.value) >= 0 ? datum.value + '×' : ''",
        "grid": true,
        "gridColor": {"condition": {"test": "indexof([1, 2, 4, 8], datum.value) < 0", "value": "transparent"}, "value": "#e3e3dd"},
        "gridWidth": 1.5,
        "domain": false,
        "ticks": true,
        "tickSize": 4,
        "tickWidth": 1.2,
        "tickColor": {"condition": {"test": "indexof([1, 2, 4, 8], datum.value) >= 0", "value": "transparent"}, "value": "#8a8a86"},
        "labelColor": "#8a8a86",
        "labelFont": "Noto Sans CJK KR",
        "labelFontSize": 23,
        "labelPadding": 8,
        "labelOverlap": false
      }
    }
  },
  "layer": [
    {
      "mark": {"type": "line", "strokeWidth": 4, "strokeJoin": "round"},
      "encoding": {
        "color": {
          "field": "basket",
          "type": "nominal",
          "scale": {"range": ["#2b78d6", "#ea6a3a", "#1bb07c", "#eea200"]},
          "legend": {
            "title": null,
            "orient": "none",
            "legendX": 21,
            "legendY": 21,
            "direction": "vertical",
            "padding": 0,
            "symbolType": "M-2.6,0H2.6",
            "symbolSize": 400,
            "symbolStrokeWidth": 4,
            "symbolOffset": 14,
            "labelOffset": 31,
            "rowPadding": 15,
            "labelFont": "Noto Sans CJK KR",
            "labelFontSize": 24,
            "labelColor": "#555555"
          }
        }
      }
    },
    {
      "transform": [
        {"window": [{"op": "rank", "as": "rk"}], "sort": [{"field": "date", "order": "descending"}], "groupby": ["basket"]},
        {"filter": "datum.rk === 1"},
        {"calculate": "format(datum.value, '.1f') + '×'", "as": "label"}
      ],
      "mark": {"type": "text", "align": "left", "baseline": "middle", "dx": 14, "font": "Noto Sans CJK KR", "fontSize": 24, "fontWeight": "bold"},
      "encoding": {
        "text": {"field": "label"},
        "color": {"field": "basket", "type": "nominal", "legend": null}
      }
    }
  ]
}
